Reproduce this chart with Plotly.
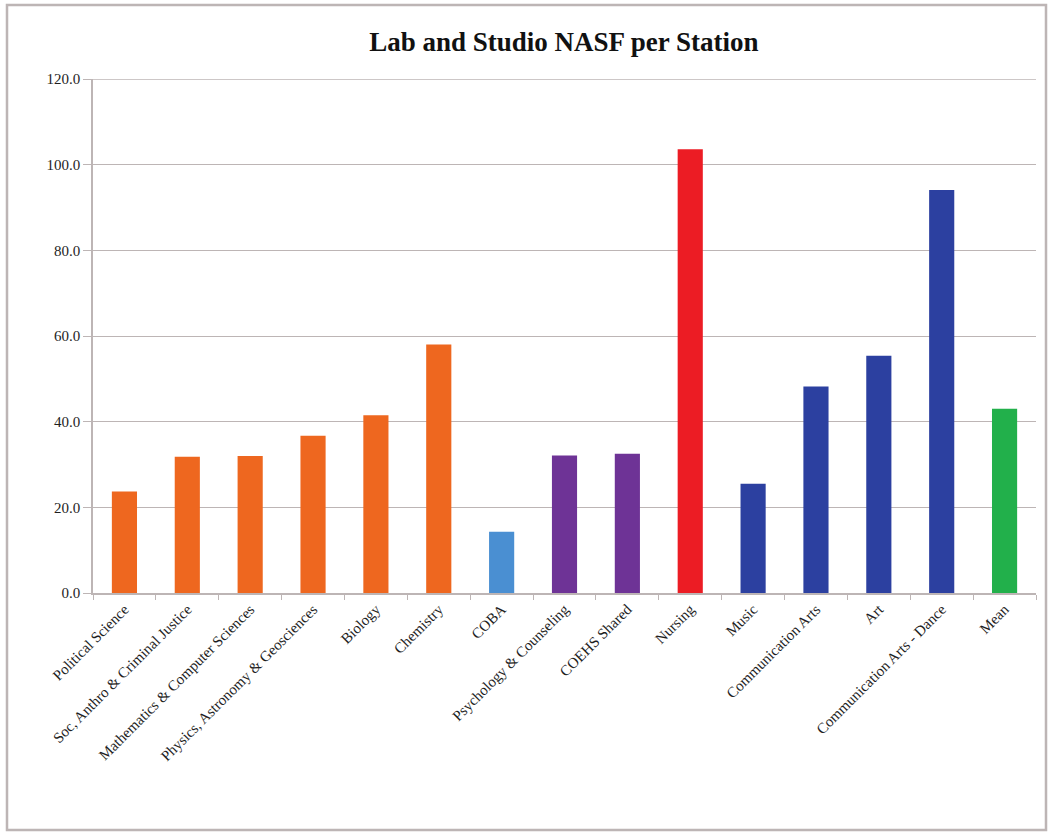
import plotly.graph_objects as go

# Lab and studio net assignable square feet per station, by department
departments = [
    "Political Science",
    "Soc, Anthro & Criminal Justice",
    "Mathematics & Computer Sciences",
    "Physics, Astronomy & Geosciences",
    "Biology",
    "Chemistry",
    "COBA",
    "Psychology & Counseling",
    "COEHS Shared",
    "Nursing",
    "Music",
    "Communication Arts",
    "Art",
    "Communication Arts - Dance",
    "Mean",
]
nasf_per_station = [23.7, 31.8, 32.0, 36.7, 41.5, 58.0, 14.3, 32.1, 32.5,
                    103.6, 25.5, 48.2, 55.4, 94.1, 43.0]

# One colour per college group
bar_colors = [
    "#EE671F", "#EE671F", "#EE671F", "#EE671F", "#EE671F", "#EE671F",
    "#4A8FD2",
    "#6E3396", "#6E3396",
    "#EC1C24",
    "#2C40A0", "#2C40A0", "#2C40A0", "#2C40A0",
    "#22B04B",
]

y_ticks = [0, 20, 40, 60, 80, 100, 120]
y_tick_text = [f"{v:.1f}" for v in y_ticks]

serif = "Liberation Serif, Times New Roman, serif"
grid_color = "#BDB5B5"

fig = go.Figure(
    go.Bar(
        x=departments,
        y=nasf_per_station,
        marker=dict(color=bar_colors, line=dict(width=0)),
        width=0.4,
        showlegend=False,
    )
)

fig.update_layout(
    width=1050,
    height=832,
    margin=dict(l=93, r=14, t=79, b=239),
    paper_bgcolor="white",
    plot_bgcolor="white",
    title=dict(
        text="<b>Lab and Studio NASF per Station</b>",
        font=dict(family=serif, size=27, color="#111111"),
        x=0.537,
        xanchor="center",
        y=0.950,
        yanchor="middle",
    ),
    font=dict(family=serif, color="#1E1E1E"),
    bargap=0.6,
    shapes=[
        # outer chart frame
        dict(
            type="rect", xref="paper", yref="paper",
            x0=-86 / 943, x1=1046 / 943 - 93 / 943,
            y0=-237 / 514, y1=(514 + 74) / 514,
            line=dict(color=grid_color, width=2.5),
            fillcolor="rgba(0,0,0,0)",
            layer="below",
        ),
        # top gridline at the axis maximum
        dict(
            type="line", xref="paper", yref="y",
            x0=0, x1=1, y0=max(y_ticks), y1=max(y_ticks),
            line=dict(color=grid_color, width=1.5),
            layer="below",
        ),
    ],
)

fig.update_xaxes(
    type="category",
    tickangle=-45,
    tickfont=dict(family=serif, size=15, color="#1E1E1E"),
    showline=True,
    linecolor=grid_color,
    linewidth=1.5,
    ticks="outside",
    tickson="boundaries",
    ticklen=5,
    tickcolor=grid_color,
    showgrid=False,
)

fig.update_yaxes(
    range=[0, 120],
    tickvals=y_ticks,
    ticktext=y_tick_text,
    tickfont=dict(family=serif, size=15, color="#1E1E1E"),
    showline=True,
    linecolor=grid_color,
    linewidth=1.5,
    ticks="outside",
    ticklen=8,
    tickcolor=grid_color,
    showgrid=True,
    gridcolor=grid_color,
    gridwidth=1.2,
    zeroline=False,
)

fig.write_html("out.html")
